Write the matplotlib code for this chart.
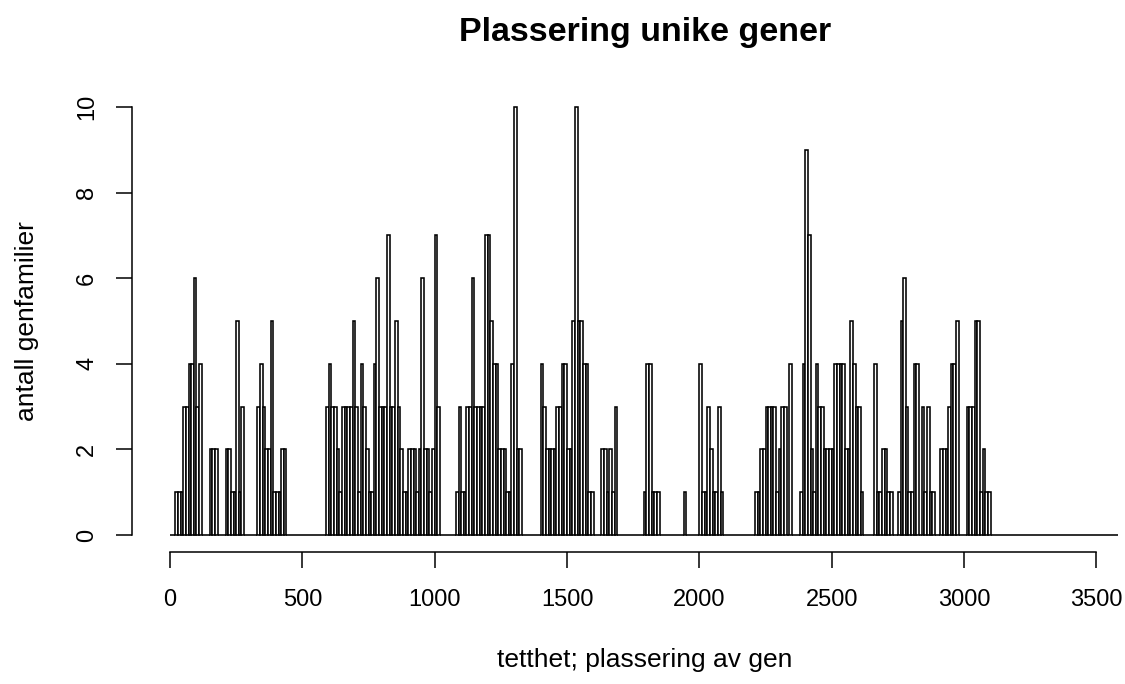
import numpy as np
import matplotlib
matplotlib.use("Agg")
import matplotlib.pyplot as plt

plt.rcParams["font.family"] = ["Liberation Sans", "DejaVu Sans"]

# histogram of gene positions, 10-unit bins from 0 to 3580
bin_width = 10
counts = [
    0, 0, 1, 1, 1, 3, 3, 4, 4, 6,
    3, 4, 0, 0, 0, 2, 2, 2, 0, 0,
    0, 2, 2, 1, 1, 5, 1, 3, 0, 0,
    0, 0, 0, 3, 4, 3, 2, 2, 5, 1,
    1, 1, 2, 2, 0, 0, 0, 0, 0, 0,
    0, 0, 0, 0, 0, 0, 0, 0, 0, 3,
    4, 3, 3, 2, 1, 3, 3, 3, 3, 5,
    3, 1, 4, 3, 2, 1, 1, 4, 6, 3,
    3, 3, 7, 3, 3, 5, 3, 2, 1, 1,
    2, 2, 2, 1, 2, 6, 2, 2, 1, 2,
    7, 3, 0, 0, 0, 0, 0, 0, 1, 3,
    1, 1, 3, 3, 6, 3, 3, 3, 3, 7,
    7, 5, 4, 4, 2, 2, 2, 1, 1, 4,
    10, 2, 2, 0, 0, 0, 0, 0, 0, 0,
    4, 3, 2, 2, 2, 2, 3, 3, 4, 4,
    2, 2, 5, 10, 5, 5, 4, 4, 1, 1,
    0, 0, 0, 2, 2, 1, 2, 1, 3, 0,
    0, 0, 0, 0, 0, 0, 0, 0, 0, 1,
    4, 4, 1, 1, 1, 0, 0, 0, 0, 0,
    0, 0, 0, 0, 1, 0, 0, 0, 0, 0,
    4, 1, 1, 3, 2, 1, 1, 3, 1, 0,
    0, 0, 0, 0, 0, 0, 0, 0, 0, 0,
    0, 1, 1, 2, 2, 3, 3, 3, 3, 1,
    2, 3, 3, 0, 4, 0, 0, 0, 1, 4,
    9, 7, 2, 1, 4, 3, 3, 2, 2, 2,
    2, 4, 4, 4, 4, 2, 2, 5, 4, 3,
    3, 1, 0, 0, 0, 0, 4, 1, 1, 2,
    2, 1, 1, 0, 0, 1, 5, 6, 3, 1,
    1, 4, 4, 0, 3, 1, 3, 1, 1, 0,
    0, 2, 2, 2, 3, 4, 4, 5, 0, 0,
    0, 3, 3, 3, 5, 5, 1, 2, 1, 1,
] + [0] * 48

x_ticks = [0, 500, 1000, 1500, 2000, 2500, 3000, 3500]
y_ticks = [0, 2, 4, 6, 8, 10]

title = "Plassering unike gener"
x_label = "tetthet; plassering av gen"
y_label = "antall genfamilier"

W, H = 1125, 684
fig = plt.figure(figsize=(W / 100, H / 100), dpi=100)
fig.patch.set_facecolor("white")

# plot region in pixels; it runs past the right edge of the image
left, right, top, bottom = 132.1, 1155.5, 89.9, 552.1
ax = fig.add_axes([left / W, 1 - bottom / H, (right - left) / W, (bottom - top) / H])

edges = np.arange(len(counts)) * bin_width
ax.bar(edges, counts, width=bin_width, align="edge",
       facecolor="white", edgecolor="black", linewidth=1.15)

x_max = len(counts) * bin_width
pad_x = 0.04 * x_max
ax.set_xlim(-pad_x, x_max + pad_x)
ax.set_ylim(-0.4, 10.4)

for side in ("top", "right"):
    ax.spines[side].set_visible(False)
ax.spines["left"].set_bounds(0, 10)
ax.spines["bottom"].set_bounds(0, 3500)
for side in ("left", "bottom"):
    ax.spines[side].set_linewidth(1.1)

ax.set_xticks(x_ticks)
ax.set_yticks(y_ticks)
ax.tick_params(direction="out", length=11.5, width=1.1, labelsize=17,
               colors="black")
ax.tick_params(axis="x", pad=15)
ax.tick_params(axis="y", pad=13, labelrotation=90)
for lab in ax.get_yticklabels():
    lab.set_va("center")

fig.text(645 / W, 1 - 33 / H, title, ha="center", va="center",
         fontsize=24.5, fontweight="bold")
fig.text(645 / W, 1 - 660 / H, x_label, ha="center", va="center", fontsize=19)
fig.text(27 / W, 1 - 321 / H, y_label, ha="center", va="center",
         fontsize=19, rotation=90)

fig.savefig("out.png", dpi=100)
